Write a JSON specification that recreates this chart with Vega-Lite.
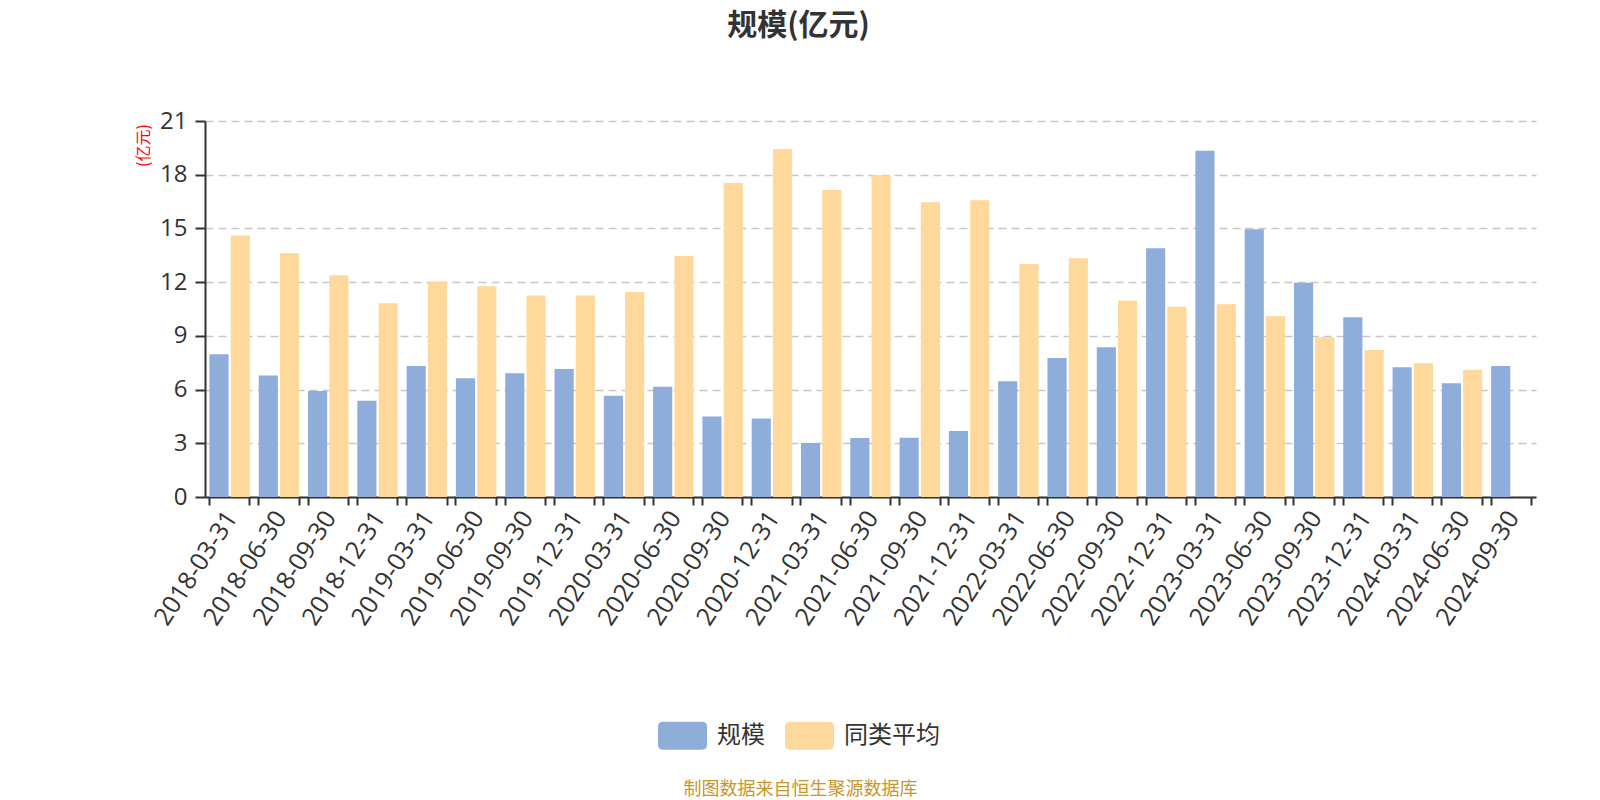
{
  "$schema": "https://vega.github.io/schema/vega-lite/v6.json",
  "autosize": {"type": "none"},
  "width": 1331,
  "height": 376,
  "padding": {"left": 205, "top": 121, "right": 64, "bottom": 303},
  "background": "white",
  "config": {
    "font": "Open Sans, Noto Sans CJK SC",
    "view": {"stroke": null}
  },
  "title": {
    "text": "规模(亿元)",
    "fontSize": 30,
    "fontWeight": "bold",
    "color": "#333333",
    "font": "Noto Sans CJK SC",
    "anchor": "middle",
    "dx": -72,
    "offset": 68
  },
  "data": {
    "values": [
      {"date": "2018-03-31", "series": "规模", "value": 7.97},
      {"date": "2018-03-31", "series": "同类平均", "value": 14.60},
      {"date": "2018-06-30", "series": "规模", "value": 6.78},
      {"date": "2018-06-30", "series": "同类平均", "value": 13.61},
      {"date": "2018-09-30", "series": "规模", "value": 5.92},
      {"date": "2018-09-30", "series": "同类平均", "value": 12.38},
      {"date": "2018-12-31", "series": "规模", "value": 5.38},
      {"date": "2018-12-31", "series": "同类平均", "value": 10.82},
      {"date": "2019-03-31", "series": "规模", "value": 7.32},
      {"date": "2019-03-31", "series": "同类平均", "value": 12.03},
      {"date": "2019-06-30", "series": "规模", "value": 6.63},
      {"date": "2019-06-30", "series": "同类平均", "value": 11.77},
      {"date": "2019-09-30", "series": "规模", "value": 6.91},
      {"date": "2019-09-30", "series": "同类平均", "value": 11.26},
      {"date": "2019-12-31", "series": "规模", "value": 7.15},
      {"date": "2019-12-31", "series": "同类平均", "value": 11.25},
      {"date": "2020-03-31", "series": "规模", "value": 5.66},
      {"date": "2020-03-31", "series": "同类平均", "value": 11.45},
      {"date": "2020-06-30", "series": "规模", "value": 6.16},
      {"date": "2020-06-30", "series": "同类平均", "value": 13.46},
      {"date": "2020-09-30", "series": "规模", "value": 4.49},
      {"date": "2020-09-30", "series": "同类平均", "value": 17.54},
      {"date": "2020-12-31", "series": "规模", "value": 4.38},
      {"date": "2020-12-31", "series": "同类平均", "value": 19.44},
      {"date": "2021-03-31", "series": "规模", "value": 3.02},
      {"date": "2021-03-31", "series": "同类平均", "value": 17.15},
      {"date": "2021-06-30", "series": "规模", "value": 3.30},
      {"date": "2021-06-30", "series": "同类平均", "value": 17.97},
      {"date": "2021-09-30", "series": "规模", "value": 3.31},
      {"date": "2021-09-30", "series": "同类平均", "value": 16.46},
      {"date": "2021-12-31", "series": "规模", "value": 3.69},
      {"date": "2021-12-31", "series": "同类平均", "value": 16.57},
      {"date": "2022-03-31", "series": "规模", "value": 6.46},
      {"date": "2022-03-31", "series": "同类平均", "value": 13.01},
      {"date": "2022-06-30", "series": "规模", "value": 7.76},
      {"date": "2022-06-30", "series": "同类平均", "value": 13.33},
      {"date": "2022-09-30", "series": "规模", "value": 8.36},
      {"date": "2022-09-30", "series": "同类平均", "value": 10.97},
      {"date": "2022-12-31", "series": "规模", "value": 13.89},
      {"date": "2022-12-31", "series": "同类平均", "value": 10.63},
      {"date": "2023-03-31", "series": "规模", "value": 19.34},
      {"date": "2023-03-31", "series": "同类平均", "value": 10.76},
      {"date": "2023-06-30", "series": "规模", "value": 14.95},
      {"date": "2023-06-30", "series": "同类平均", "value": 10.09},
      {"date": "2023-09-30", "series": "规模", "value": 11.97},
      {"date": "2023-09-30", "series": "同类平均", "value": 8.92},
      {"date": "2023-12-31", "series": "规模", "value": 10.04},
      {"date": "2023-12-31", "series": "同类平均", "value": 8.21},
      {"date": "2024-03-31", "series": "规模", "value": 7.24},
      {"date": "2024-03-31", "series": "同类平均", "value": 7.47},
      {"date": "2024-06-30", "series": "规模", "value": 6.35},
      {"date": "2024-06-30", "series": "同类平均", "value": 7.11},
      {"date": "2024-09-30", "series": "规模", "value": 7.32}
    ]
  },
  "resolve": {"axis": {"x": "independent"}},
  "layer": [
    {
      "mark": {"type": "bar"},
      "encoding": {
        "x": {
          "field": "date",
          "type": "nominal",
          "sort": null,
          "scale": {"paddingInner": 0.18, "paddingOuter": 0.09},
          "axis": {
            "orient": "bottom",
            "title": "制图数据来自恒生聚源数据库",
            "titleFontSize": 18,
            "titleFontWeight": "normal",
            "titleColor": "#c9962b",
            "titleFont": "Noto Sans CJK SC",
            "titleX": 595,
            "titleY": 292,
            "titleAlign": "center",
            "titleBaseline": "middle",
            "titleAngle": 0,
            "bandPosition": 0,
            "labelOffset": 2,
            "labelAngle": -57,
            "labelAlign": "right",
            "labelBaseline": "middle",
            "labelFontSize": 25,
            "labelColor": "#333333",
            "labelPadding": 8,
            "labelOverlap": false,
            "labelBound": false,
            "labelFlush": false,
            "domainColor": "#333333",
            "domainWidth": 2,
            "tickColor": "#333333",
            "tickWidth": 2,
            "tickSize": 8,
            "grid": false
          }
        },
        "xOffset": {
          "field": "series",
          "type": "nominal",
          "sort": ["规模", "同类平均"],
          "scale": {"paddingInner": 0.1, "paddingOuter": 0}
        },
        "y": {
          "field": "value",
          "type": "quantitative",
          "scale": {"domain": [0, 21], "nice": false},
          "axis": {
            "title": "(亿元)",
            "titleColor": "red",
            "titleFontSize": 16,
            "titleFontWeight": "normal",
            "titleFont": "Noto Sans CJK SC",
            "titleX": -62,
            "titleY": 24,
            "titleAlign": "center",
            "titleBaseline": "middle",
            "titleAngle": 270,
            "values": [0, 3, 6, 9, 12, 15, 18, 21],
            "labelFontSize": 24,
            "labelColor": "#333333",
            "labelPadding": 8,
            "domainColor": "#333333",
            "domainWidth": 2,
            "tickColor": "#333333",
            "tickWidth": 2,
            "tickSize": 10,
            "grid": true,
            "gridColor": "#c8c8c8",
            "gridDash": [8, 5],
            "gridWidth": 1.5
          }
        },
        "color": {
          "field": "series",
          "type": "nominal",
          "sort": ["规模", "同类平均"],
          "scale": {"domain": ["规模", "同类平均"], "range": ["#8faddb", "#ffd99b"]},
          "legend": {
            "title": null,
            "orient": "none",
            "direction": "horizontal",
            "legendX": 453,
            "legendY": 590,
            "padding": 0,
            "symbolType": "M-0.8,-0.571 L0.8,-0.571 Q1,-0.571 1,-0.371 L1,0.371 Q1,0.571 0.8,0.571 L-0.8,0.571 Q-1,0.571 -1,0.371 L-1,-0.371 Q-1,-0.571 -0.8,-0.571 Z",
            "symbolSize": 2401,
            "symbolStrokeWidth": 0,
            "symbolOpacity": 1,
            "labelFontSize": 24,
            "labelColor": "#333333",
            "labelFont": "Noto Sans CJK SC",
            "labelOffset": 10,
            "columnPadding": 20
          }
        }
      }
    },
    {
      "mark": {"type": "bar", "opacity": 0},
      "encoding": {
        "x": {
          "field": "date",
          "type": "nominal",
          "sort": null,
          "axis": {
            "orient": "bottom",
            "title": null,
            "bandPosition": 1,
            "labels": false,
            "domain": false,
            "grid": false,
            "tickColor": "#333333",
            "tickWidth": 2,
            "tickSize": 8
          }
        },
        "xOffset": {"field": "series", "type": "nominal", "sort": ["规模", "同类平均"]},
        "y": {"field": "value", "type": "quantitative"},
        "color": {"field": "series", "type": "nominal", "legend": null}
      }
    }
  ]
}
